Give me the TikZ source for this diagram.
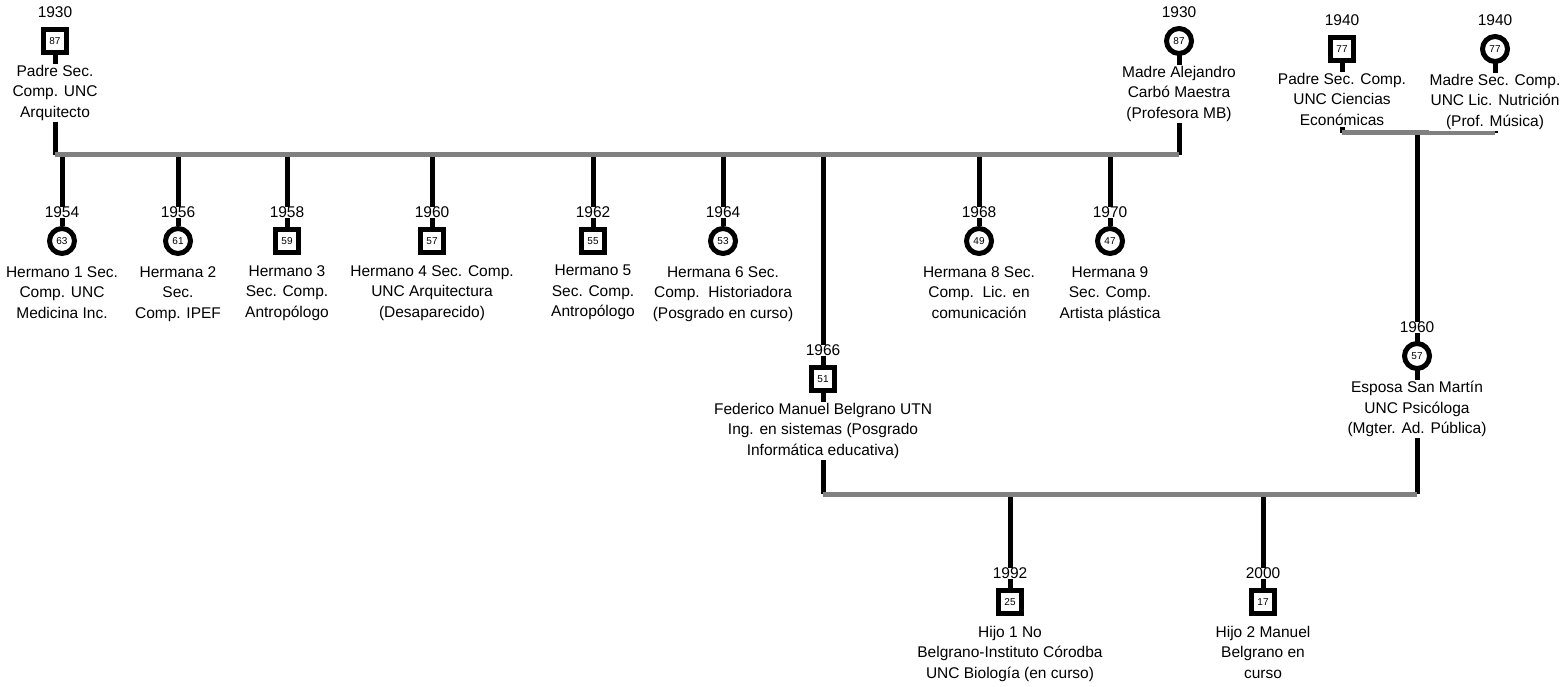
\documentclass[tikz,border=0pt]{standalone}
\usepackage{fontspec}
\setmainfont{Liberation Sans}
\usetikzlibrary{positioning,backgrounds}
\begin{document}
\begin{tikzpicture}[x=1pt,y=-1pt,
      male/.style={rectangle,draw,line width=5pt,minimum size=23pt,
        inner sep=0pt,fill=white,font=\fontsize{10}{10}\selectfont},
      female/.style={circle,draw,line width=5pt,minimum size=25pt,
        inner sep=0pt,fill=white,font=\fontsize{10}{10}\selectfont}]
      \tikzstyle{yr}=[inner sep=0pt,fill=white,font=\fontsize{15.5}{18}\selectfont]
      \tikzstyle{info}=[align=center,inner sep=1pt,fill=white,
      font=\fontsize{15.5}{20.5}\selectfont]
      \tikzstyle{kin}=[line width=5pt,black]
      \tikzstyle{union}=[line width=5pt,gray]
      \useasboundingbox (0,0) rectangle (1565,687);
      % L0 parents
      \node[male] (pa1) at (55,41) {87};
      \node[yr,above=9pt of pa1] {1930};
      \node[info,below=9pt of pa1] {Padre Sec.\\Comp. UNC\\Arquitecto};
      \node[female] (ma1) at (1179,41) {87};
      \node[yr,above=8pt of ma1] {1930};
      \node[info,below=9pt of ma1] {Madre Alejandro\\Carbó Maestra\\(Profesora MB)};
      \node[male] (pa2) at (1342,49) {77};
      \node[yr,above=9pt of pa2] {1940};
      \node[info,below=9pt of pa2] {Padre Sec. Comp.\\UNC Ciencias\\Económicas};
      \node[female] (ma2) at (1495,49) {77};
      \node[yr,above=8pt of ma2] {1940};
      \node[info,below=9pt of ma2] {Madre Sec. Comp.\\UNC Lic. Nutrición\\(Prof. Música)};
      % L1 siblings
      \node[female] (h1) at (62,241) {63};
      \node[yr,above=8pt of h1] {1954};
      \node[info,below=9pt of h1] {Hermano 1 Sec.\\Comp. UNC\\Medicina Inc.};
      \node[female] (h2) at (178,241) {61};
      \node[yr,above=8pt of h2] {1956};
      \node[info,below=9pt of h2] {Hermana 2\\Sec.\\Comp. IPEF};
      \node[male] (h3) at (287,241) {59};
      \node[yr,above=9pt of h3] {1958};
      \node[info,below=9pt of h3] {Hermano 3\\Sec. Comp.\\Antropólogo};
      \node[male] (h4) at (432,241) {57};
      \node[yr,above=9pt of h4] {1960};
      \node[info,below=9pt of h4] {Hermano 4 Sec. Comp.\\UNC Arquitectura\\(Desaparecido)};
      \node[male] (h5) at (593,241) {55};
      \node[yr,above=9pt of h5] {1962};
      \node[info,below=9pt of h5] {Hermano 5\\Sec. Comp.\\Antropólogo};
      \node[female] (h6) at (723,241) {53};
      \node[yr,above=8pt of h6] {1964};
      \node[info,below=9pt of h6] {Hermana 6 Sec.\\Comp.\ \ Historiadora\\(Posgrado en curso)};
      \node[female] (h8) at (979,241) {49};
      \node[yr,above=8pt of h8] {1968};
      \node[info,below=9pt of h8] {Hermana 8 Sec.\\Comp.\ \ Lic. en\\comunicación};
      \node[female] (h9) at (1110,241) {47};
      \node[yr,above=8pt of h9] {1970};
      \node[info,below=9pt of h9] {Hermana 9\\Sec. Comp.\\Artista plástica};
      % L1 couple
      \node[male] (fmb) at (823,379) {51};
      \node[yr,above=9pt of fmb] {1966};
      \node[info,below=9pt of fmb] {Federico Manuel Belgrano UTN\\Ing. en sistemas (Posgrado\\Informática educativa)};
      \node[female] (esp) at (1417,356) {57};
      \node[yr,above=8pt of esp] {1960};
      \node[info,below=9pt of esp] {Esposa San Martín\\UNC Psicóloga\\(Mgter. Ad. Pública)};
      % L2 children
      \node[male] (hj1) at (1010,602) {25};
      \node[yr,above=9pt of hj1] {1992};
      \node[info,below=9pt of hj1] {Hijo 1 No\\Belgrano-Instituto Córodba\\UNC Biología (en curso)};
      \node[male] (hj2) at (1263,602) {17};
      \node[yr,above=9pt of hj2] {2000};
      \node[info,below=9pt of hj2] {Hijo 2 Manuel\\Belgrano en\\curso};
      % union points
      \coordinate (u1a) at (55,155); \coordinate (u1b) at (1179,155);
      \coordinate (u2a) at (1342,133); \coordinate (u2b) at (1495,133);
      \coordinate (u2m) at (1417,133);
      \coordinate (u3a) at (823,494); \coordinate (u3b) at (1417,494);
      \begin{scope}[on background layer]
        \draw[kin] (pa1.center) -- (u1a); \draw[kin] (ma1.center) -- (u1b);
        \draw[kin] (pa2.center) -- (u2a); \draw[kin] (ma2.center) -- (u2b);
        \foreach \k in {h1,h2,h3,h4,h5,h6,h8,h9} {\draw[kin] (\k) -- (\k |- u1a);}
        \draw[kin] (fmb |- u1a) -- (fmb.center) -- (u3a);
        \draw[kin] (u2m) -- (esp.center) -- (u3b);
        \draw[kin] (hj1) -- (hj1 |- u3a); \draw[kin] (hj2) -- (hj2 |- u3a);
        \draw[union] (u1a) -- (u1b); \draw[union] (u2a) -- (u2b);
        \draw[union] (u3a) -- (u3b);
      \end{scope}
    \end{tikzpicture}
\end{document}
